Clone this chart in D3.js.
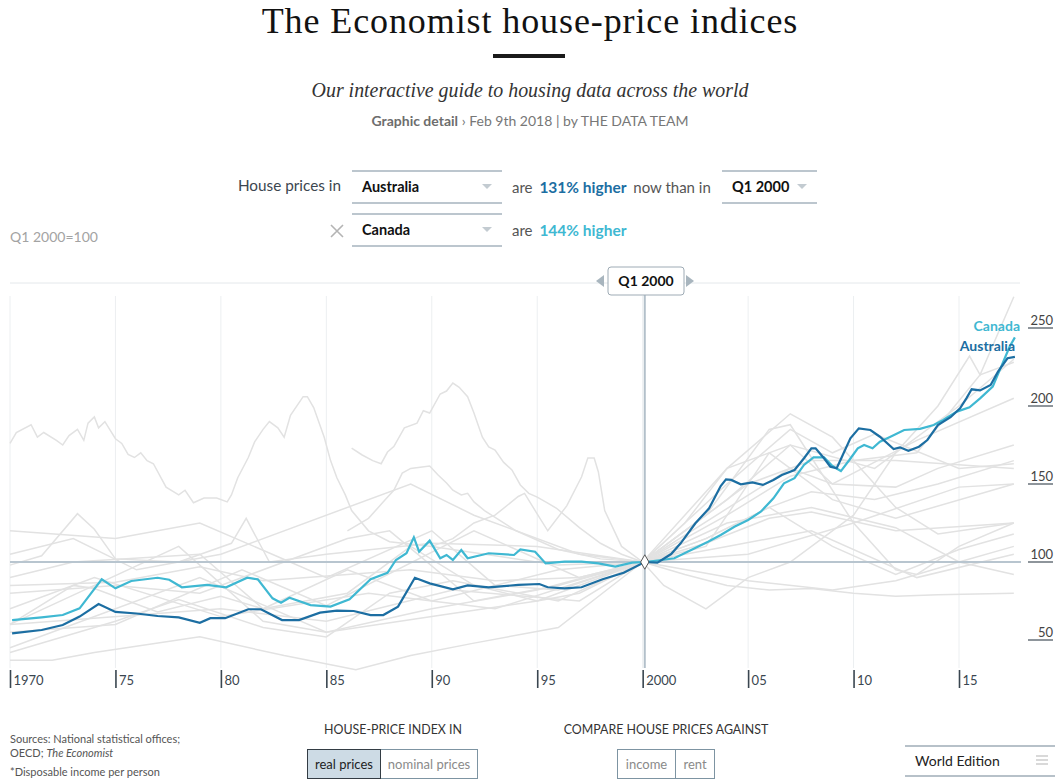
<!DOCTYPE html>
<html>
<head>
<meta charset="utf-8">
<script src="https://cdn.jsdelivr.net/npm/d3@7"></script>
<style>
body { margin: 0; background: #fff; }
svg text { font-family: Lato, "Noto Sans", sans-serif; }
</style>
</head>
<body>
<div id="chart"></div>
<script>
// values, [year, index] with Q1 2000 = 100
var australia = [[1970.1,54.3],[1971.5,56.4],[1972.5,59.6],[1973.3,65],[1974.2,73],[1975,68],[1976,67],[1977,65.4],[1978,64.5],[1979,61],[1979.5,64],[1980.2,64],[1981.3,69.7],[1981.9,69.7],[1982.9,62.8],[1983.7,62.8],[1984.7,67.5],[1985.5,68.8],[1986.3,68.6],[1987.1,66],[1987.7,66],[1988.4,71.4],[1989.2,89.9],[1989.9,86.3],[1991,82.5],[1991.7,85],[1992.7,83.8],[1994.1,85.3],[1995.1,85.9],[1995.5,83.8],[1996.3,83.1],[1997.1,83.8],[1998.1,88.9],[1999.1,93.1],[2000.1,100],[2000.7,99.6],[2001.35,105.1],[2001.8,112],[2002.5,124.8],[2003.15,134.4],[2003.7,148.7],[2003.95,153],[2004.2,152.6],[2004.65,149.8],[2005.2,151],[2005.7,149.4],[2006.2,152.6],[2006.6,155.8],[2007.2,159],[2007.65,166.5],[2008,172.9],[2008.2,172.9],[2008.6,166.5],[2008.9,161.1],[2009.2,160.1],[2009.45,167.5],[2009.85,179.3],[2010.25,185.7],[2010.8,184.6],[2011.25,180.3],[2011.9,172.4],[2012.2,173.5],[2012.6,171.3],[2013.1,173.9],[2013.5,178.2],[2014,187.8],[2014.6,192.8],[2015.05,198.5],[2015.35,204.9],[2015.6,210.7],[2016,210],[2016.5,213.5],[2016.85,222],[2017.3,230.6],[2017.65,231.5]];
var canada = [[1970.1,62.8],[1971.5,64.5],[1972.5,66],[1973.3,70.3],[1973.85,80],[1974.35,88.9],[1975,83.1],[1975.75,87.8],[1977,89.9],[1977.55,88.6],[1978.15,83.8],[1979.35,85.3],[1980.25,83.8],[1981.25,89.9],[1981.75,88.9],[1982.45,76.7],[1982.85,73.9],[1983.25,77.1],[1984.25,72.4],[1985.2,71.4],[1986.1,76.1],[1987.1,88.9],[1987.9,93.1],[1988.3,101.3],[1988.8,105.6],[1989.15,115.8],[1989.4,106.6],[1989.9,113.7],[1990.4,102.4],[1990.7,104.5],[1991,101.3],[1991.4,107.7],[1991.7,102.4],[1992.7,105.6],[1993.9,104.5],[1994.2,108.1],[1994.9,106.6],[1995.4,99.1],[1996.3,100.2],[1997.1,100.2],[1997.9,99.1],[1998.7,97],[1999.5,99.6],[2000.1,100],[2000.9,101.3],[2001.5,102.4],[2002.3,107.7],[2003.1,113],[2003.7,117.3],[2004.35,122.6],[2005,126.9],[2005.6,132.2],[2006.2,140.8],[2006.7,150.4],[2007.2,153.7],[2007.65,162.2],[2008.1,167.1],[2008.6,167.1],[2009,161.5],[2009.4,158.3],[2009.8,165.4],[2010.2,172.9],[2010.5,175],[2010.9,172.9],[2011.25,177.1],[2011.75,180.3],[2012.4,184.6],[2013.15,185.3],[2013.8,187.8],[2014.25,191],[2014.9,196.4],[2015.5,199.2],[2016,204.9],[2016.6,212.4],[2017.1,228.4],[2017.4,238],[2017.65,244]];

// other countries, drawn in grey
var grey01 = [[1970,176],[1970.3,183],[1971,188],[1971.3,180],[1971.6,183],[1972.2,178],[1972.5,175],[1972.8,181],[1973.2,185],[1973.5,178],[1973.7,189],[1974,193],[1974.2,186],[1974.5,190],[1975,179],[1975.3,176],[1975.6,169],[1975.9,167],[1976.2,170],[1976.5,165],[1976.8,163],[1977.4,148],[1978,143],[1978.3,146],[1978.7,138],[1979.2,141],[1979.8,141],[1980.3,138.5],[1980.5,143],[1980.8,154],[1981.3,167],[1981.6,177],[1982,185],[1982.3,190],[1982.7,186],[1983,180],[1983.3,194],[1983.9,206],[1984.1,206],[1984.4,199],[1984.9,180],[1985.2,165],[1985.5,154],[1985.9,143],[1986.2,133],[1987,120],[1988,113],[1990,110],[1993,104],[1996,98],[2000,100],[2003,112],[2006,128],[2008,132],[2012,120],[2017.6,125]];
var grey02 = [[1986.2,173],[1986.7,168.6],[1987.2,165],[1987.6,163],[1987.9,170.5],[1988.2,174],[1988.7,186],[1989.3,189],[1989.6,197],[1989.9,195.5],[1990.4,207.7],[1990.7,209.6],[1991,214.7],[1991.3,212],[1991.7,206],[1992,195.5],[1992.4,180],[1992.7,173.7],[1993,171.8],[1993.4,164],[1993.8,159],[1994.2,149.4],[1994.6,144],[1995,141.6],[1995.5,137.8],[1995.9,134.6],[1997,122],[1998,112],[1999,105],[2000,100],[2002,92],[2004,85],[2006,82],[2008,83],[2010,80],[2012,78],[2014,79],[2017.6,80]];
var grey03 = [[1986,120],[1987,128],[1987.8,140],[1988.2,146],[1988.6,157],[1989,160],[1989.9,161.5],[1990.3,155.8],[1990.7,150.6],[1991,146],[1991.4,143],[1991.7,144],[1992,138.5],[1992.5,133],[1994,120],[1996,108],[1998,102],[2000,100],[2003,115],[2006,135],[2008,145],[2011,140],[2014,150],[2017.6,165]];
var grey04 = [[1990,110],[1991,115],[1992,125],[1993,130],[1994.1,142],[1994.4,144],[1994.9,133],[1995.5,120],[1996.4,136],[1997.1,154.5],[1997.4,166.7],[1997.7,166.7],[1997.9,157.7],[1998.2,133],[1999,110],[2000,100],[2001,85],[2003,70],[2005,90],[2007,100],[2010,130],[2012,170],[2014,200],[2015.5,232],[2016,220],[2017.6,270]];
var grey05 = [[1970,60],[1973,85],[1974,83],[1977,68],[1980,78],[1982,70],[1986,80],[1989,110],[1992,85],[1995,75],[1997,80],[2000,100],[2002,125],[2004,160],[2007,175],[2009,150],[2012,148],[2014,160],[2017.6,175]];
var grey06 = [[1970,85],[1975,87],[1979,97],[1982,88],[1986,92],[1989,95],[1993,88],[1997,90],[2000,100],[2003,115],[2006,135],[2009,110],[2012,92],[2015,108],[2017.6,118]];
var grey07 = [[1970,42],[1975,62],[1978,76],[1982,58],[1985,52],[1988,80],[1991,88],[1996,75],[2000,100],[2004,160],[2007,195],[2009,180],[2012,135],[2014,118],[2017.6,125]];
var grey08 = [[1970,37],[1972,37],[1974,42],[1979,52],[1983,40],[1986.4,31],[1989,40],[1992,48],[1996,58],[2000,100],[2003,130],[2006,185],[2007,188],[2010,125],[2012,95],[2013,92],[2015,110],[2017.6,125]];
var grey09 = [[1970,60],[1980,70],[1985,62],[1991,82],[1997,75],[2000,100],[2004,150],[2007,185],[2009,170],[2011,182],[2015,160],[2017.6,163]];
var grey10 = [[1970,98],[1971.5,104],[1973.2,131],[1974,121],[1975,102],[1978,100],[1980.5,112],[1981.2,128],[1982.3,100],[1985,105],[1990,112],[1995,110],[2000,100],[2005,88],[2009,82],[2012,88],[2015,100],[2017.6,110]];
var grey11 = [[1970,55],[1975,60],[1981,95],[1985,72],[1992,120],[1997,90],[2000,100],[2004,125],[2008,135],[2012,122],[2015,100],[2017.6,92]];
var grey12 = [[1970,60],[1978,110],[1982,62],[1985,55],[1990,65],[1995,75],[2000,100],[2004,110],[2008,120],[2013,90],[2017.6,105]];
var grey13 = [[1970,120],[1975,115],[1979,125],[1985,90],[1990,120],[1993,85],[1996,82],[2000,100],[2004,130],[2007,155],[2010,165],[2013,170],[2016,220],[2017.6,228]];
var grey14 = [[1970,70],[1974,90],[1980,65],[1987,80],[1990,75],[1996,95],[2000,100],[2004,140],[2007,175],[2011,160],[2015,200],[2017.6,230]];
var grey15 = [[1970,90],[1973,100],[1979,105],[1982,70],[1986,95],[1990,75],[1993,70],[2000,100],[2003,110],[2006,170],[2009,140],[2012,128],[2017.6,150]];
var grey16 = [[1970,45],[1979,90],[1985,55],[1990,70],[1995,82],[2000,100],[2005,150],[2008,165],[2012,165],[2017.6,160]];
var grey17 = [[1970,105],[1973,115],[1976,95],[1980,105],[1989,150],[1992,130],[1997,105],[2000,100],[2005,105],[2010,125],[2015,148],[2017.6,150]];
var grey18 = [[1970,80],[1975,85],[1979,80],[1986,115],[1988,120],[1992,75],[1996,85],[2000,100],[2007,160],[2009,150],[2013,178],[2017.6,205]];
var greyAll = [grey01, grey02, grey03, grey04, grey05, grey06, grey07, grey08, grey09, grey10, grey11, grey12, grey13, grey14, grey15, grey16, grey17, grey18];

var xTicks = [1970, 1975, 1980, 1985, 1990, 1995, 2000, 2005, 2010, 2015];
var xTickLabels = ["1970", "75", "80", "85", "90", "95", "2000", "05", "10", "15"];
var yTicks = [50, 100, 150, 200, 250];
var baseDate = 2000.1;

var W = 1062, H = 784;
var dark = "#1c6ea2", light = "#3fb8d2";

var svg = d3.select("#chart").append("svg")
    .attr("width", W).attr("height", H);

var x = d3.scaleLinear().domain([1970, 2015]).range([10, 959]);
var y = d3.scaleLinear().domain([50, 250]).range([640, 328]);

// header
svg.append("text").attr("x", 530).attr("y", 32.5)
    .attr("text-anchor", "middle")
    .style("font-family", "'Liberation Serif', 'DejaVu Serif', serif")
    .style("font-size", "36px").style("letter-spacing", "0.9px").style("fill", "#121212")
    .text("The Economist house-price indices");
svg.append("rect").attr("x", 493).attr("y", 54).attr("width", 72).attr("height", 4).attr("fill", "#1a1a1a");
svg.append("text").attr("x", 530).attr("y", 97)
    .attr("text-anchor", "middle")
    .style("font-family", "'Liberation Serif', 'DejaVu Serif', serif")
    .style("font-style", "italic")
    .style("font-size", "19.9px").style("fill", "#333")
    .text("Our interactive guide to housing data across the world");
var by = svg.append("text").attr("x", 530).attr("y", 126)
    .attr("text-anchor", "middle")
    .style("font-size", "14px").style("fill", "#777");
by.append("tspan").style("font-weight", "bold").style("fill", "#6d6d6d").text("Graphic detail");
by.append("tspan").text(" \u203A Feb 9th 2018 | by THE DATA TEAM");

// selector rows
function dropdown(x0, x1, yTop, label) {
    svg.append("line").attr("x1", x0).attr("x2", x1).attr("y1", yTop).attr("y2", yTop)
	.style("stroke", "#bcc6ce").style("stroke-width", 2);
    svg.append("line").attr("x1", x0).attr("x2", x1).attr("y1", yTop + 32).attr("y2", yTop + 32)
	.style("stroke", "#bcc6ce").style("stroke-width", 2);
    svg.append("text").attr("x", x0 + 10).attr("y", yTop + 21)
	.style("font-size", "14.5px").style("font-weight", "bold").style("fill", "#111")
	.text(label);
    svg.append("path")
	.attr("d", "M" + (x1 - 20) + "," + (yTop + 13) + "l10,0l-5,5z")
	.style("fill", "#c3cbd1");
}
dropdown(352, 502, 171, "Australia");
dropdown(722, 817, 171, "Q1 2000");
dropdown(352, 502, 214, "Canada");

svg.append("text").attr("x", 341).attr("y", 191).attr("text-anchor", "end")
    .style("font-size", "15.3px").style("fill", "#3c4650").text("House prices in");
var r1 = svg.append("text").attr("x", 512).attr("y", 193).style("font-size", "15px").style("fill", "#555");
r1.append("tspan").text("are ");
r1.append("tspan").attr("dx", 3).style("font-weight", "bold").style("font-size", "15.5px").style("fill", dark).text("131% higher");
r1.append("tspan").attr("dx", 3).text(" now than in");
var r2 = svg.append("text").attr("x", 512).attr("y", 236).style("font-size", "15px").style("fill", "#555");
r2.append("tspan").text("are ");
r2.append("tspan").attr("dx", 3).style("font-weight", "bold").style("font-size", "15.5px").style("fill", light).text("144% higher");
svg.append("path").attr("d", "M331,225L343,237M343,225L331,237")
    .style("stroke", "#b4b4b4").style("stroke-width", 1.6);
svg.append("text").attr("x", 10).attr("y", 242)
    .style("font-size", "14px").style("fill", "#a3a3a3").text("Q1 2000=100");

// chart
var plot = svg.append("g");
plot.selectAll(".grid").data(xTicks).join("line")
    .attr("class", "grid")
    .attr("x1", d => x(d)).attr("x2", d => x(d))
    .attr("y1", 296).attr("y2", 668)
    .style("stroke", "#eceff1").style("stroke-width", 1);

svg.append("line").attr("x1", 10).attr("x2", 1020).attr("y1", 283).attr("y2", 283)
    .style("stroke", "#e4e8eb").style("stroke-width", 1);

var line = d3.line().x(d => x(d[0])).y(d => y(d[1]));

plot.selectAll(".other").data(greyAll).join("path")
    .attr("class", "other")
    .attr("d", line)
    .style("fill", "none").style("stroke", "#e2e2e2").style("stroke-width", 1.5);

// base line at 100 and the Q1 2000 marker
plot.append("line").attr("x1", 10).attr("x2", 1021).attr("y1", y(100)).attr("y2", y(100))
    .style("stroke", "#b8c5cf").style("stroke-width", 2);
plot.append("line").attr("x1", x(baseDate)).attr("x2", x(baseDate)).attr("y1", 295).attr("y2", 668)
    .style("stroke", "#b3c0ca").style("stroke-width", 2);

plot.append("path").datum(canada).attr("d", line)
    .style("fill", "none").style("stroke", light).style("stroke-width", 2.2);
plot.append("path").datum(australia).attr("d", line)
    .style("fill", "none").style("stroke", dark).style("stroke-width", 2.2);

plot.append("path")
    .attr("transform", "translate(" + x(baseDate) + "," + y(100) + ")")
    .attr("d", d3.symbol(d3.symbolDiamond, 60))
    .style("fill", "#fff").style("stroke", "#555").style("stroke-width", 1);

svg.append("text").attr("x", 1020).attr("y", 331).attr("text-anchor", "end")
    .style("font-size", "14px").style("font-weight", "bold").style("fill", light).text("Canada");
svg.append("text").attr("x", 1015).attr("y", 351).attr("text-anchor", "end")
    .style("font-size", "14px").style("font-weight", "bold").style("fill", dark).text("Australia");

// date handle
svg.append("path").attr("d", "M604,275l0,12l-8,-6z").style("fill", "#a8b5be");
svg.append("path").attr("d", "M686,275l0,12l8,-6z").style("fill", "#a8b5be");
svg.append("rect").attr("x", 608).attr("y", 267).attr("width", 76).attr("height", 28).attr("rx", 3)
    .style("fill", "#fff").style("stroke", "#9eabb5");
svg.append("text").attr("x", 646).attr("y", 286).attr("text-anchor", "middle")
    .style("font-size", "14px").style("font-weight", "bold").style("fill", "#111").text("Q1 2000");

// right axis
var ry = svg.append("g");
ry.selectAll("text").data(yTicks).join("text")
    .attr("x", 1053).attr("y", d => y(d) - 3).attr("text-anchor", "end")
    .style("font-size", "13px").style("fill", "#444").text(d => d);
ry.selectAll("line").data(yTicks).join("line")
    .attr("x1", 1028).attr("x2", 1053).attr("y1", d => y(d)).attr("y2", d => y(d))
    .style("stroke", "#5d6870").style("stroke-width", 1.4);

// bottom axis
var ax = svg.append("g").attr("transform", "translate(0,670)")
    .call(d3.axisBottom(x).tickValues(xTicks).tickSize(18).tickFormat((d, i) => xTickLabels[i]));
ax.select(".domain").remove();
ax.selectAll(".tick line").style("stroke", "#3a4650").style("stroke-width", 1.6);
ax.selectAll(".tick text").attr("x", 3).attr("y", 6).attr("dy", "0.71em")
    .attr("text-anchor", "start")
    .style("font-family", "Lato, sans-serif").style("font-size", "13px").style("fill", "#3a4650");

// footer
var src = svg.append("g").style("font-size", "11px").style("fill", "#555");
src.append("text").attr("x", 10).attr("y", 743).text("Sources: National statistical offices;");
var s2 = src.append("text").attr("x", 10).attr("y", 757);
s2.append("tspan").text("OECD; ");
s2.append("tspan").style("font-style", "italic").text("The Economist");
src.append("text").attr("x", 10).attr("y", 776).text("*Disposable income per person");

svg.append("text").attr("x", 393).attr("y", 734).attr("text-anchor", "middle")
    .style("font-size", "12.4px").style("fill", "#333").text("HOUSE-PRICE INDEX IN");
svg.append("text").attr("x", 666).attr("y", 734).attr("text-anchor", "middle")
    .style("font-size", "12.4px").style("fill", "#333").text("COMPARE HOUSE PRICES AGAINST");

function button(x0, w, label, on) {
    svg.append("rect").attr("x", x0).attr("y", 749.5).attr("width", w).attr("height", 29)
	.style("fill", on ? "#cddbe5" : "#fff").style("stroke", on ? "#333c44" : "#7d94a2");
    svg.append("text").attr("x", x0 + w / 2).attr("y", 769).attr("text-anchor", "middle")
	.style("font-size", "13px").style("fill", on ? "#222" : "#8a8a8a").text(label);
}
button(380.5, 97, "nominal prices", false);
button(307.5, 73, "real prices", true);
button(617.5, 58, "income", false);
button(675.5, 39, "rent", false);

svg.append("line").attr("x1", 905).attr("x2", 1055).attr("y1", 746).attr("y2", 746)
    .style("stroke", "#b7c1c9").style("stroke-width", 2);
svg.append("line").attr("x1", 905).attr("x2", 1055).attr("y1", 776).attr("y2", 776)
    .style("stroke", "#b7c1c9").style("stroke-width", 2);
svg.append("text").attr("x", 915).attr("y", 766)
    .style("font-size", "14px").style("fill", "#222").text("World Edition");
svg.selectAll(".burger").data([756, 760, 764]).join("line")
    .attr("class", "burger")
    .attr("x1", 1036).attr("x2", 1048).attr("y1", d => d).attr("y2", d => d)
    .style("stroke", "#c4c4c4").style("stroke-width", 1.3);
</script>
</body>
</html>
